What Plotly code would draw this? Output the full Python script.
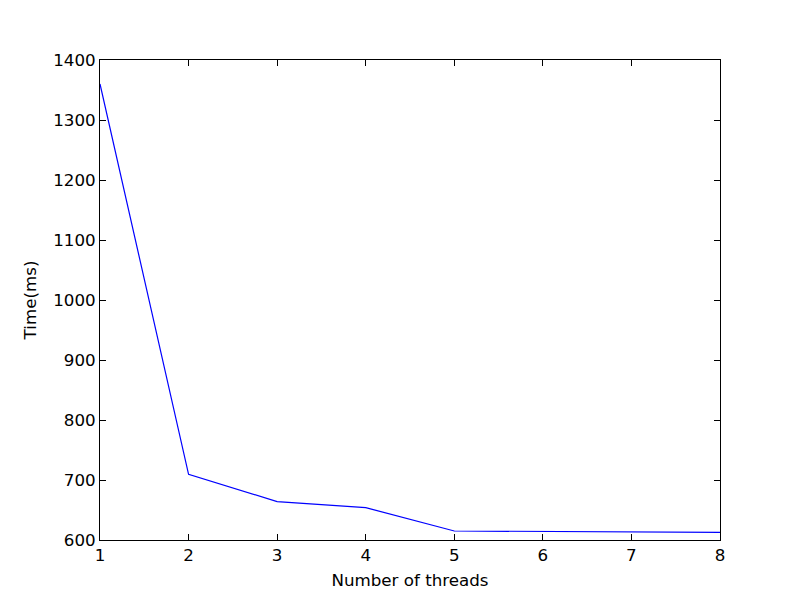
import plotly.graph_objects as go

threads = [1, 2, 3, 4, 5, 6, 7, 8]
time_ms = [1360, 709.5, 664, 654, 615, 614, 613, 612.8]

x_ticks = [1, 2, 3, 4, 5, 6, 7, 8]
y_ticks = [600, 700, 800, 900, 1000, 1100, 1200, 1300, 1400]

fig = go.Figure()
fig.add_trace(go.Scatter(x=threads, y=time_ms, mode="lines",
                         line=dict(color="#0000ff", width=1.2)))

axis_common = dict(showline=True, linecolor="black", linewidth=1, mirror="ticks",
                   ticks="inside", ticklen=6, tickcolor="black", tickwidth=1,
                   showgrid=False, zeroline=False,
                   tickfont=dict(family="DejaVu Sans", size=16.7, color="black"))

fig.update_xaxes(range=[1, 8], tickvals=x_ticks,
                 title=dict(text="Number of threads", standoff=10,
                            font=dict(family="DejaVu Sans", size=16.7, color="black")),
                 **axis_common)
fig.update_yaxes(range=[600, 1400], tickvals=y_ticks,
                 title=dict(text="Time(ms)", standoff=12,
                            font=dict(family="DejaVu Sans", size=16.7, color="black")),
                 **axis_common)

fig.update_layout(width=800, height=600, plot_bgcolor="white", paper_bgcolor="white",
                  margin=dict(l=92, r=88, t=52, b=68), showlegend=False)

fig.write_html("out.html")
